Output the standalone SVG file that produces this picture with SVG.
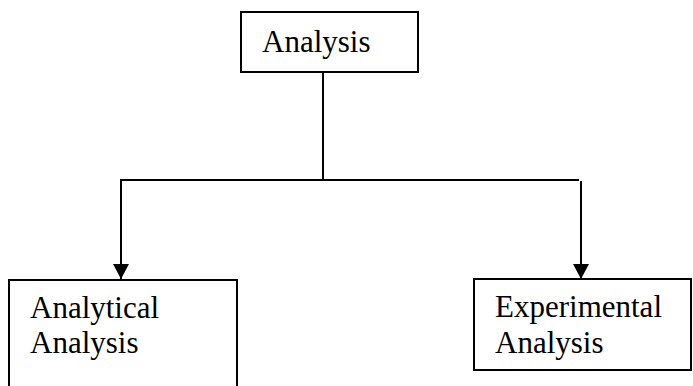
<svg xmlns="http://www.w3.org/2000/svg" width="693" height="386" viewBox="0 0 693 386">
<defs>
<style>
.box{fill:#fff;stroke:#000;stroke-width:2}
.t{font-family:"Liberation Serif","Times New Roman",serif;font-size:31px;fill:#000}
.c{fill:none;stroke:#000;stroke-width:2}
</style>
<marker id="ah" markerWidth="16" markerHeight="16" viewBox="0 0 16 16" refX="15" refY="8" orient="auto" markerUnits="userSpaceOnUse">
<path d="M0,0 L15,8 L0,16 Z" fill="#000"/>
</marker>
</defs>
<rect width="693" height="386" fill="#fff"/>
<g id="connectors">
<line class="c" x1="323" y1="72" x2="323" y2="180"/>
<line class="c" x1="121" y1="180" x2="579" y2="180"/>
<line class="c" x1="121" y1="179" x2="121" y2="279" marker-end="url(#ah)"/>
<line class="c" x1="581" y1="181" x2="581" y2="279" marker-end="url(#ah)"/>
</g>
<g id="analysis">
<rect class="box" x="241" y="12" width="177" height="60"/>
<text class="t" x="262" y="52">Analysis</text>
</g>
<g id="analytical">
<rect class="box" x="9" y="280" width="228" height="112"/>
<text class="t" x="30" y="318">Analytical</text>
<text class="t" x="30" y="353">Analysis</text>
</g>
<g id="experimental">
<rect class="box" x="474" y="279" width="217" height="91"/>
<text class="t" x="495" y="317">Experimental</text>
<text class="t" x="495" y="353">Analysis</text>
</g>
</svg>
